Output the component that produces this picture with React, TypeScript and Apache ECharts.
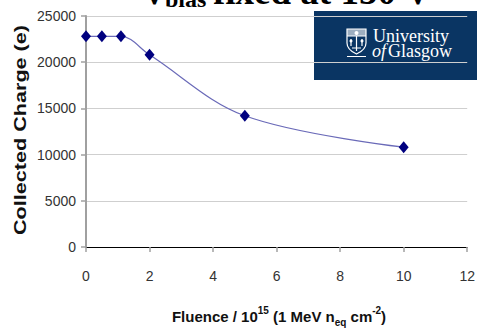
import React, { useEffect, useRef } from "react";
import * as echarts from "echarts";

// Fluence (10^15 1 MeV n_eq cm^-2) and collected charge (e)
const fluence = [0, 0.5, 1.1, 2, 5, 10];
const charge = [22800, 22800, 22800, 20800, 14200, 10800];

const xTicks = { min: 0, max: 12, interval: 2 };
const yTicks = { min: 0, max: 25000, interval: 5000 };

const SANS = "'Liberation Sans', Arial, sans-serif";
const SERIF = "'Liberation Serif', 'Times New Roman', serif";

// crest outline with its chief, tree and scroll
echarts.graphic.registerShape(
  "shield",
  echarts.graphic.extendPath(
    "M0 0 H19 V14 C19 20 14 23 9.5 25 C5 23 0 20 0 14 Z M0 7 H19 M9.5 7 V22 M4 10 V17 M15 10 V17 M5 19 H14 M0 27.5 H19",
    {}
  )
);

export default function App() {
  const ref = useRef<HTMLDivElement>(null);

  useEffect(() => {
    if (!ref.current) return;
    const chart = echarts.init(ref.current, null, { renderer: "svg" });
    const data = fluence.map((f, i) => [f, charge[i]]);

    chart.setOption({
      animation: false,
      backgroundColor: "#ffffff",
      grid: { left: 86, right: 7, top: 16, bottom: 82 },
      xAxis: {
        type: "value",
        min: xTicks.min,
        max: xTicks.max,
        interval: xTicks.interval,
        axisLine: { show: true, onZero: true, lineStyle: { color: "#000", width: 1 } },
        axisTick: { show: true, length: 5, lineStyle: { color: "#a0a0a0", width: 1.5 } },
        axisLabel: { margin: 22, fontSize: 14, color: "#333", fontFamily: SANS },
        splitLine: { show: false },
      },
      yAxis: {
        type: "value",
        min: yTicks.min,
        max: yTicks.max,
        interval: yTicks.interval,
        axisLine: { show: true, lineStyle: { color: "#a0a0a0", width: 2 } },
        axisTick: { show: true, length: 5, lineStyle: { color: "#a0a0a0", width: 1.5 } },
        axisLabel: {
          margin: 10,
          fontSize: 14,
          color: "#333",
          fontFamily: SANS,
          formatter: (v: number) => String(v),
        },
        splitLine: { show: true, lineStyle: { color: "#cfcfcf", width: 1 } },
      },
      series: [
        {
          type: "line",
          data,
          smooth: 0.35,
          symbol: "diamond",
          symbolSize: [10, 12],
          itemStyle: { color: "#00007f" },
          lineStyle: { color: "#6a6ab8", width: 1.2 },
        },
      ],
      graphic: [
        // title (partly above the top edge)
        {
          type: "text",
          x: 141,
          y: -9,
          style: { text: "V", font: `bold 37px ${SERIF}`, fill: "#000", verticalAlign: "middle", align: "left" },
        },
        {
          type: "text",
          x: 165,
          y: -1,
          style: { text: "bias", font: `bold 24px ${SERIF}`, fill: "#000", verticalAlign: "middle", align: "left" },
        },
        {
          type: "text",
          x: 213,
          y: -9,
          style: { text: "fixed at 150 V", font: `bold 37px ${SERIF}`, fill: "#000", verticalAlign: "middle", align: "left" },
        },
        // y axis title
        {
          type: "text",
          x: 21,
          y: 130,
          rotation: Math.PI / 2,
          scaleX: 1.35,
          style: {
            text: "Collected Charge (e)",
            font: `bold 16px ${SANS}`,
            fill: "#111",
            align: "center",
            verticalAlign: "middle",
          },
        },
        // x axis title
        {
          type: "text",
          x: 279,
          y: 316,
          style: {
            text: "{a|Fluence / 10}{sup|15}{a| (1 MeV n}{sub|eq}{a| cm}{sup|-2}{a|)}",
            align: "center",
            verticalAlign: "middle",
            rich: {
              a: { font: `bold 15px ${SANS}`, fill: "#111", lineHeight: 22 },
              sup: { font: `bold 10px ${SANS}`, fill: "#111", verticalAlign: "top" },
              sub: { font: `bold 10px ${SANS}`, fill: "#111", verticalAlign: "bottom" },
            },
          },
        },
        // university logo
        {
          type: "group",
          children: [
            { type: "rect", shape: { x: 314, y: 11, width: 163, height: 69 }, style: { fill: "#0a3563" } },
            {
              type: "shield",
              x: 347,
              y: 29,
              style: { fill: "none", stroke: "#ffffff", lineWidth: 1.2 },
            },
            { type: "rect", shape: { x: 347, y: 29, width: 19, height: 7 }, style: { fill: "rgba(255,255,255,0.6)" } },
            { type: "circle", shape: { cx: 356.5, cy: 33, r: 2 }, style: { fill: "#ffffff" } },
            { type: "circle", shape: { cx: 351, cy: 41, r: 1.5 }, style: { fill: "#ffffff" } },
            { type: "circle", shape: { cx: 362, cy: 41, r: 1.5 }, style: { fill: "#ffffff" } },
            {
              type: "text",
              x: 373,
              y: 36,
              style: { text: "University", font: `18px ${SERIF}`, fill: "#ffffff", verticalAlign: "middle", align: "left" },
            },
            {
              type: "text",
              x: 372,
              y: 50.5,
              style: {
                text: "{i|of}{r|Glasgow}",
                verticalAlign: "middle",
                align: "left",
                rich: {
                  i: { font: `italic 18px ${SERIF}`, fill: "#ffffff", padding: [0, 2, 0, 0] },
                  r: { font: `18px ${SERIF}`, fill: "#ffffff" },
                },
              },
            },
          ],
        },
      ],
    });

    return () => chart.dispose();
  }, []);

  return (
    <div
      ref={ref}
      style={{ position: "absolute", left: 0, top: 0, width: 478, height: 329 }}
    />
  );
}
